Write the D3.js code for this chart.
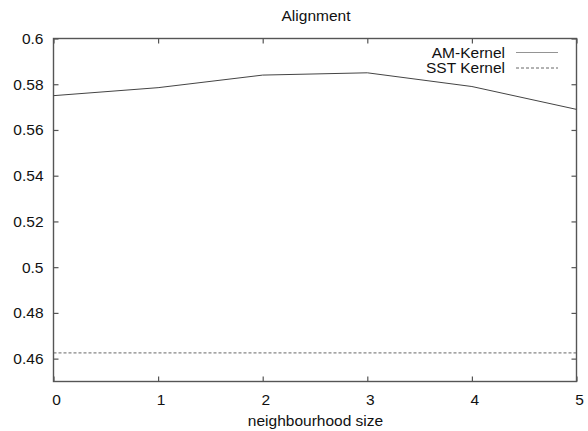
<!DOCTYPE html>
<html>
<head>
<meta charset="utf-8">
<script src="https://cdn.jsdelivr.net/npm/d3@7"></script>
<style>
  html, body { margin: 0; padding: 0; background: #fff; }
  svg { display: block; }
  text { font-family: "Liberation Sans", Arial, Helvetica, sans-serif; fill: #111; }
</style>
</head>
<body>
<svg id="chart" width="588" height="431"></svg>
<script>
// ---- data ----
const neighbourhood = [0, 1, 2, 3, 4, 5];
const amKernel = [0.575, 0.5785, 0.584, 0.585, 0.579, 0.569];
const sstKernel = [0.4625, 0.4625, 0.4625, 0.4625, 0.4625, 0.4625];
const seriesNames = ["AM-Kernel", "SST Kernel"];
const yTicks = [0.46, 0.48, 0.50, 0.52, 0.54, 0.56, 0.58, 0.60];
const yTickLabels = ["0.46", "0.48", "0.5", "0.52", "0.54", "0.56", "0.58", "0.6"];
const xTicks = [0, 1, 2, 3, 4, 5];
const xTickLabels = ["0", "1", "2", "3", "4", "5"];
const titleText = "Alignment";
const xLabelText = "neighbourhood size";

// ---- layout ----
const W = 588, H = 431;
const pLeft = 53.5, pRight = 576.5, pTop = 38.5, pBottom = 381.5;
const svg = d3.select("#chart");

const x = d3.scaleLinear().domain([0, 5]).range([pLeft, pRight]);
const y = d3.scaleLinear().domain([0.45, 0.6]).range([pBottom, pTop]);

const frameColor = "#555";
const tickLen = 5;
const fontSize = 15.5;

// frame
svg.append("rect")
  .attr("x", pLeft).attr("y", pTop)
  .attr("width", pRight - pLeft).attr("height", pBottom - pTop)
  .attr("fill", "none").attr("stroke", frameColor).attr("stroke-width", 1.4);

// axes (inward ticks, mirrored)
const fmtY = d => yTickLabels[yTicks.indexOf(d)];
const fmtX = d => xTickLabels[xTicks.indexOf(d)];

const yAxisL = d3.axisLeft(y).tickValues(yTicks).tickFormat(fmtY).tickSize(-tickLen).tickPadding(10);
const yAxisR = d3.axisRight(y).tickValues(yTicks).tickFormat("").tickSize(-tickLen);
const xAxisB = d3.axisBottom(x).tickValues(xTicks).tickFormat(fmtX).tickSize(-tickLen).tickPadding(12.5);
const xAxisT = d3.axisTop(x).tickValues(xTicks).tickFormat("").tickSize(-tickLen);

function styleAxis(g) {
  g.select(".domain").remove();
  g.selectAll(".tick line").attr("stroke", frameColor).attr("stroke-width", 1.2);
  g.selectAll(".tick text")
    .attr("font-family", "Liberation Sans, Arial, sans-serif")
    .attr("font-size", fontSize).attr("fill", "#111");
}

svg.append("g").attr("transform", `translate(${pLeft},0)`).call(yAxisL).call(styleAxis);
svg.append("g").attr("transform", `translate(${pRight},0)`).call(yAxisR).call(styleAxis);
svg.append("g").attr("transform", `translate(0,${pBottom})`).call(xAxisB).call(styleAxis)
  .selectAll(".tick text").attr("dx", 2.5);
svg.append("g").attr("transform", `translate(0,${pTop})`).call(xAxisT).call(styleAxis);

// lines
const line = d3.line().x((d, i) => x(neighbourhood[i])).y(d => y(d));

svg.append("path").datum(amKernel)
  .attr("d", line).attr("fill", "none")
  .attr("stroke", "#444").attr("stroke-width", 1);

svg.append("path").datum(sstKernel)
  .attr("d", line).attr("fill", "none")
  .attr("stroke", "#555").attr("stroke-width", 0.9)
  .attr("stroke-dasharray", "3,2");

// title and x label
svg.append("text")
  .attr("x", (pLeft + pRight) / 2 + 1).attr("y", 21)
  .attr("text-anchor", "middle").attr("font-size", fontSize)
  .text(titleText);

svg.append("text")
  .attr("x", (pLeft + pRight) / 2 + 0.5).attr("y", 426)
  .attr("text-anchor", "middle").attr("font-size", fontSize)
  .text(xLabelText);

// legend
const legendTextX = 505, legLineX1 = 516, legLineX2 = 558;
const legendY = [52.5, 68];
const legendDash = [null, "3,2"];
seriesNames.forEach((name, i) => {
  svg.append("text")
    .attr("x", legendTextX).attr("y", legendY[i] + 5)
    .attr("text-anchor", "end").attr("font-size", fontSize)
    .text(name);
  svg.append("line")
    .attr("x1", legLineX1).attr("x2", legLineX2)
    .attr("y1", legendY[i]).attr("y2", legendY[i])
    .attr("stroke", i === 0 ? "#888" : "#555").attr("stroke-width", 0.9)
    .attr("stroke-dasharray", legendDash[i]);
});
</script>
</body>
</html>
